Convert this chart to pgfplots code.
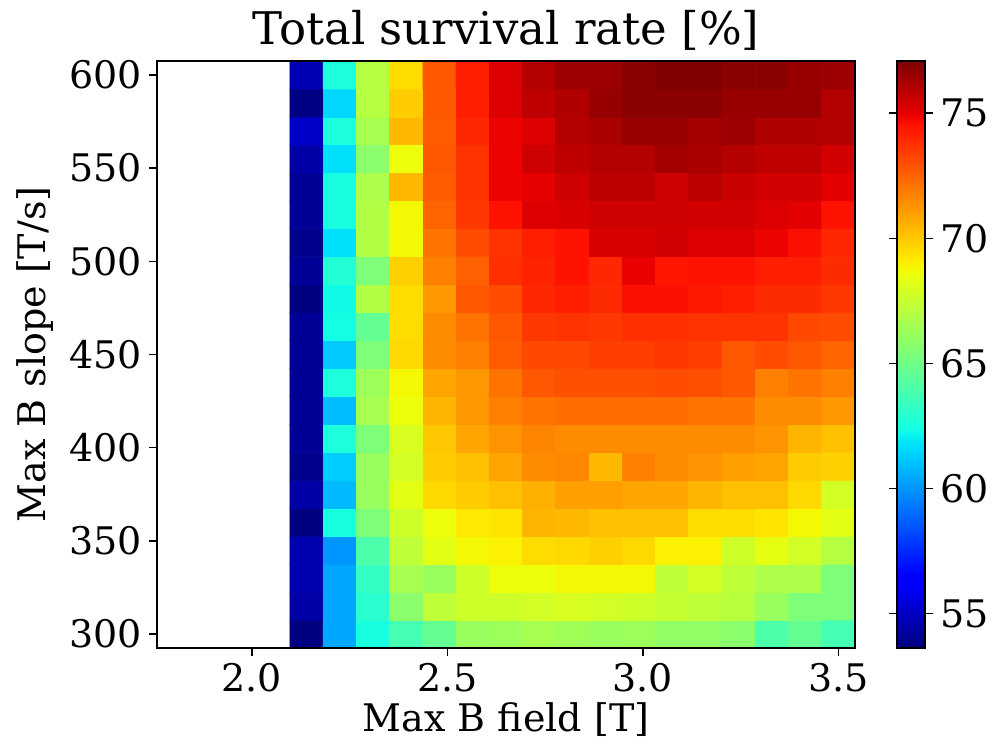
\documentclass[border=0pt]{standalone}
\usepackage{fontspec}
\setmainfont{DejaVu Serif}
\usepackage{pgfplots}
\pgfplotsset{compat=1.18}
% matplotlib jet
\pgfplotsset{
  colormap={mpljet}{rgb(0pt)=(0,0,0.5) rgb(110pt)=(0,0,1) rgb(125pt)=(0,0,1)
    rgb(340pt)=(0,0.86,1) rgb(350pt)=(0,0.9,0.968) rgb(375pt)=(0.081,1,0.887)
    rgb(640pt)=(0.935,1,0.032) rgb(650pt)=(0.968,0.963,0) rgb(660pt)=(1,0.926,0)
    rgb(890pt)=(1,0.074,0) rgb(910pt)=(0.909,0,0) rgb(1000pt)=(0.5,0,0)},
}
\begin{document}
\begin{tikzpicture}[font=\fontsize{19}{23}\selectfont]
\begin{axis}[
    at={(0,0)}, anchor=south west,
    scale only axis, width=349pt, height=293.5pt,
    xmin=1.7575, xmax=3.5425, ymin=292.5, ymax=607.5,
    enlargelimits=false, axis on top,
    colormap name=mpljet, point meta min=53.62, point meta max=77.09,
    /pgf/number format/assume math mode=true,
    xtick={2.0,2.5,3.0,3.5},
    xticklabels={\textrm{2.0},\textrm{2.5},\textrm{3.0},\textrm{3.5}},
    ytick={300,350,...,600},
    yticklabel={\textrm{\pgfmathprintnumber{\tick}}},
    tick align=outside, xtick pos=bottom, ytick pos=left,
    major tick length=4pt,
    tick style={black, line width=0.8pt},
    axis line style={line width=0.8pt},
    title={Total survival rate [\%]},
    every axis title/.style={at={(axis description cs:0.5,1)}, anchor=base,
        yshift=8.25pt, font=\fontsize{22.5}{27}\selectfont},
    xlabel={Max B field [T]},
    xlabel style={at={(axis description cs:0.5,0)}, anchor=center, yshift=-36pt},
    ylabel={Max B slope [T/s]},
    ylabel style={at={(axis description cs:-0.175,0.5)}, anchor=center, rotate=0},
    colorbar,
    colorbar style={
        at={(parent axis.north east)}, anchor=north west, xshift=12.5pt,
        scale only axis, width=14pt, height=293.5pt,
        /pgf/number format/assume math mode=true,
        ytick={55,60,65,70,75},
        yticklabel={\textrm{\pgfmathprintnumber{\tick}}},
        tick align=outside, major tick length=4pt,
        tick style={black, line width=0.8pt},
        axis line style={line width=0.8pt},
    },
]
\addplot[matrix plot*, mesh/cols=17, point meta=explicit] coordinates {
(2.14,300)[53.6] (2.225,300)[60.4] (2.31,300)[62.5] (2.395,300)[63.8] (2.48,300)[64.7] (2.565,300)[66.2] (2.65,300)[66.3] (2.735,300)[66.6] (2.82,300)[66.4] (2.905,300)[66.2] (2.99,300)[66.3] (3.075,300)[66.0] (3.16,300)[66.0] (3.245,300)[65.8] (3.33,300)[64.0] (3.415,300)[64.7] (3.5,300)[63.8]

(2.14,315)[54.4] (2.225,315)[60.4] (2.31,315)[63.0] (2.395,315)[65.8] (2.48,315)[67.3] (2.565,315)[67.7] (2.65,315)[67.7] (2.735,315)[67.8] (2.82,315)[68.0] (2.905,315)[67.8] (2.99,315)[67.7] (3.075,315)[67.5] (3.16,315)[67.3] (3.245,315)[67.1] (3.33,315)[66.2] (3.415,315)[65.4] (3.5,315)[65.4]

(2.14,330)[54.6] (2.225,330)[60.4] (2.31,330)[63.3] (2.395,330)[66.6] (2.48,330)[66.2] (2.565,330)[67.7] (2.65,330)[68.6] (2.735,330)[68.6] (2.82,330)[68.8] (2.905,330)[68.8] (2.99,330)[68.8] (3.075,330)[67.3] (3.16,330)[67.8] (3.245,330)[67.3] (3.33,330)[66.8] (3.415,330)[66.8] (3.5,330)[65.4]

(2.14,345)[54.6] (2.225,345)[60.0] (2.31,345)[64.0] (2.395,345)[67.3] (2.48,345)[68.3] (2.565,345)[68.8] (2.65,345)[69.0] (2.735,345)[69.5] (2.82,345)[69.6] (2.905,345)[69.8] (2.99,345)[69.6] (3.075,345)[69.0] (3.16,345)[69.0] (3.245,345)[67.7] (3.33,345)[68.4] (3.415,345)[67.8] (3.5,345)[67.0]

(2.14,360)[53.6] (2.225,360)[62.5] (2.31,360)[65.4] (2.395,360)[67.7] (2.48,360)[68.6] (2.565,360)[69.2] (2.65,360)[69.3] (2.735,360)[70.5] (2.82,360)[70.4] (2.905,360)[70.2] (2.99,360)[70.2] (3.075,360)[70.2] (3.16,360)[69.5] (3.245,360)[69.5] (3.33,360)[69.3] (3.415,360)[68.8] (3.5,360)[68.3]

(2.14,375)[54.4] (2.225,375)[60.8] (2.31,375)[66.2] (2.395,375)[68.3] (2.48,375)[69.6] (2.565,375)[69.9] (2.65,375)[70.2] (2.735,375)[70.6] (2.82,375)[71.0] (2.905,375)[71.0] (2.99,375)[70.9] (3.075,375)[70.9] (3.16,375)[70.5] (3.245,375)[70.2] (3.33,375)[70.2] (3.415,375)[69.6] (3.5,375)[67.8]

(2.14,390)[53.9] (2.225,390)[61.3] (2.31,390)[66.2] (2.395,390)[67.8] (2.48,390)[69.9] (2.565,390)[70.2] (2.65,390)[70.9] (2.735,390)[71.5] (2.82,390)[71.6] (2.905,390)[70.4] (2.99,390)[71.8] (3.075,390)[71.5] (3.16,390)[71.3] (3.245,390)[71.0] (3.33,390)[70.9] (3.415,390)[69.9] (3.5,390)[69.8]

(2.14,405)[54.1] (2.225,405)[62.6] (2.31,405)[65.4] (2.395,405)[68.0] (2.48,405)[70.0] (2.565,405)[70.9] (2.65,405)[71.3] (2.735,405)[71.7] (2.82,405)[71.5] (2.905,405)[71.5] (2.99,405)[71.5] (3.075,405)[71.5] (3.16,405)[71.5] (3.245,405)[71.5] (3.33,405)[71.3] (3.415,405)[70.5] (3.5,405)[70.2]

(2.14,420)[54.1] (2.225,420)[60.9] (2.31,420)[66.6] (2.395,420)[68.6] (2.48,420)[70.5] (2.565,420)[71.2] (2.65,420)[71.8] (2.735,420)[72.1] (2.82,420)[72.3] (2.905,420)[72.3] (2.99,420)[72.3] (3.075,420)[72.3] (3.16,420)[72.1] (3.245,420)[72.1] (3.33,420)[71.5] (3.415,420)[71.5] (3.5,420)[71.2]

(2.14,435)[54.1] (2.225,435)[62.6] (2.31,435)[66.3] (2.395,435)[68.8] (2.48,435)[70.9] (2.565,435)[71.2] (2.65,435)[72.1] (2.735,435)[72.8] (2.82,435)[73.0] (2.905,435)[73.0] (2.99,435)[73.0] (3.075,435)[73.1] (3.16,435)[73.0] (3.245,435)[72.8] (3.33,435)[71.8] (3.415,435)[72.1] (3.5,435)[71.8]

(2.14,450)[54.1] (2.225,450)[61.2] (2.31,450)[65.4] (2.395,450)[69.6] (2.48,450)[71.5] (2.565,450)[71.8] (2.65,450)[72.7] (2.735,450)[73.2] (2.82,450)[73.2] (2.905,450)[73.4] (2.99,450)[73.4] (3.075,450)[73.6] (3.16,450)[73.4] (3.245,450)[72.8] (3.33,450)[73.1] (3.415,450)[72.8] (3.5,450)[72.5]

(2.14,465)[54.1] (2.225,465)[62.4] (2.31,465)[64.7] (2.395,465)[69.5] (2.48,465)[71.5] (2.565,465)[72.1] (2.65,465)[72.8] (2.735,465)[73.6] (2.82,465)[73.7] (2.905,465)[73.6] (2.99,465)[73.8] (3.075,465)[73.8] (3.16,465)[73.7] (3.245,465)[73.7] (3.33,465)[73.7] (3.415,465)[73.2] (3.5,465)[73.1]

(2.14,480)[53.6] (2.225,480)[62.3] (2.31,480)[66.9] (2.395,480)[69.5] (2.48,480)[71.2] (2.565,480)[72.8] (2.65,480)[73.1] (2.735,480)[74.0] (2.82,480)[74.2] (2.905,480)[73.9] (2.99,480)[74.6] (3.075,480)[74.6] (3.16,480)[74.35] (3.245,480)[74.2] (3.33,480)[73.9] (3.415,480)[73.9] (3.5,480)[73.6]

(2.14,495)[54.1] (2.225,495)[62.8] (2.31,495)[65.4] (2.395,495)[69.8] (2.48,495)[71.8] (2.565,495)[72.6] (2.65,495)[73.8] (2.735,495)[74.1] (2.82,495)[74.5] (2.905,495)[74.0] (2.99,495)[74.95] (3.075,495)[74.45] (3.16,495)[74.5] (3.245,495)[74.5] (3.33,495)[74.2] (3.415,495)[74.2] (3.5,495)[73.9]

(2.14,510)[53.9] (2.225,510)[61.7] (2.31,510)[66.9] (2.395,510)[68.8] (2.48,510)[72.1] (2.565,510)[73.1] (2.65,510)[73.7] (2.735,510)[74.2] (2.82,510)[74.5] (2.905,510)[75.3] (2.99,510)[75.3] (3.075,510)[75.4] (3.16,510)[75.2] (3.245,510)[75.2] (3.33,510)[74.9] (3.415,510)[74.6] (3.5,510)[74.0]

(2.14,525)[54.1] (2.225,525)[62.5] (2.31,525)[66.9] (2.395,525)[68.8] (2.48,525)[72.5] (2.565,525)[73.6] (2.65,525)[74.5] (2.735,525)[75.2] (2.82,525)[75.3] (2.905,525)[75.5] (2.99,525)[75.5] (3.075,525)[75.5] (3.16,525)[75.4] (3.245,525)[75.4] (3.33,525)[75.2] (3.415,525)[75.1] (3.5,525)[74.5]

(2.14,540)[54.1] (2.225,540)[62.5] (2.31,540)[66.8] (2.395,540)[70.4] (2.48,540)[72.7] (2.565,540)[73.7] (2.65,540)[74.9] (2.735,540)[75.0] (2.82,540)[75.5] (2.905,540)[75.9] (2.99,540)[75.9] (3.075,540)[75.5] (3.16,540)[75.9] (3.245,540)[75.6] (3.33,540)[75.4] (3.415,540)[75.4] (3.5,540)[75.1]

(2.14,555)[54.4] (2.225,555)[61.7] (2.31,555)[65.8] (2.395,555)[68.6] (2.48,555)[72.8] (2.565,555)[73.7] (2.65,555)[74.9] (2.735,555)[75.5] (2.82,555)[75.8] (2.905,555)[76.0] (2.99,555)[76.0] (3.075,555)[76.35] (3.16,555)[76.2] (3.245,555)[76.0] (3.33,555)[75.8] (3.415,555)[75.8] (3.5,555)[75.4]

(2.14,570)[55.1] (2.225,570)[62.6] (2.31,570)[66.6] (2.395,570)[70.4] (2.48,570)[72.7] (2.565,570)[74.0] (2.65,570)[74.9] (2.735,570)[75.2] (2.82,570)[76.0] (2.905,570)[76.2] (2.99,570)[76.6] (3.075,570)[76.6] (3.16,570)[76.35] (3.245,570)[76.5] (3.33,570)[76.1] (3.415,570)[76.1] (3.5,570)[76.0]

(2.14,585)[53.7] (2.225,585)[61.5] (2.31,585)[67.0] (2.395,585)[69.9] (2.48,585)[72.8] (2.565,585)[74.2] (2.65,585)[75.2] (2.735,585)[75.8] (2.82,585)[76.1] (2.905,585)[76.6] (2.99,585)[76.85] (3.075,585)[76.85] (3.16,585)[76.85] (3.245,585)[76.6] (3.33,585)[76.6] (3.415,585)[76.6] (3.5,585)[76.0]

(2.14,600)[54.7] (2.225,600)[62.6] (2.31,600)[67.0] (2.395,600)[69.5] (2.48,600)[72.8] (2.565,600)[74.2] (2.65,600)[75.2] (2.735,600)[76.0] (2.82,600)[76.5] (2.905,600)[76.5] (2.99,600)[76.85] (3.075,600)[77.1] (3.16,600)[77.1] (3.245,600)[76.85] (3.33,600)[76.85] (3.415,600)[76.6] (3.5,600)[76.5]
};
\end{axis}
\pgfresetboundingbox
\path[use as bounding box] (-78.5pt,-49pt) rectangle (418.5pt,324pt);
\end{tikzpicture}
\end{document}
